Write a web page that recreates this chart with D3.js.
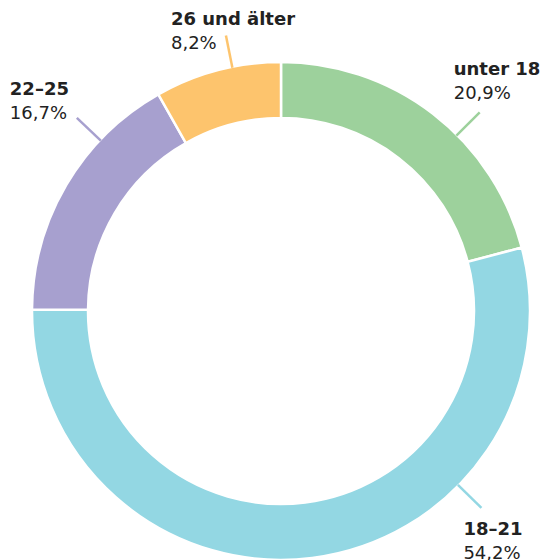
<!DOCTYPE html>
<html>
<head>
<meta charset="utf-8">
<script src="https://cdn.jsdelivr.net/npm/d3@7/dist/d3.min.js"></script>
<style>
  html, body { margin: 0; padding: 0; background: #fff; }
  svg { display: block; }
  text { font-family: "DejaVu Sans", "Noto Sans", sans-serif; fill: #222; }
</style>
</head>
<body>
<svg id="chart" width="546" height="560"></svg>
<script>
// Age groups and their shares (percent)
const categories = ["unter 18", "18–21", "22–25", "26 und älter"];
const shares = [20.9, 54.2, 16.7, 8.2];
const shareLabels = ["20,9%", "54,2%", "16,7%", "8,2%"];
const colors = ["#9dd19c", "#93d7e3", "#a7a0cf", "#fdc46d"];

// Label layout: leader line direction (degrees clockwise from top) and text offset from the line end
const leaderAngles = [45, 134.5, 313.4, 348.7];
const labelOffsets = [[-26, -37], [-18, 27], [-67, -23], [-55, -10]];

const width = 546, height = 560;
const cx = 281, cy = 311;
const outerR = 249, innerR = 193;
const leaderLen = 33;

const svg = d3.select("#chart");
const g = svg.append("g").attr("transform", `translate(${cx},${cy})`);

const pie = d3.pie().sort(null).value(d => d);
const arcs = pie(shares);
const arc = d3.arc().innerRadius(innerR).outerRadius(outerR);

g.selectAll("path.slice")
  .data(arcs)
  .join("path")
  .attr("class", "slice")
  .attr("d", arc)
  .attr("fill", (d, i) => colors[i])
  .attr("stroke", "#fff")
  .attr("stroke-width", 2.5);

const rad = a => a * Math.PI / 180;
const pt = (a, r) => [Math.sin(rad(a)) * r, -Math.cos(rad(a)) * r];

const labels = g.selectAll("g.label")
  .data(categories.map((c, i) => ({ c, i })))
  .join("g")
  .attr("class", "label");

labels.append("line")
  .each(function (d) {
    const a = leaderAngles[d.i];
    const [x1, y1] = pt(a, outerR - 1);
    const [x2, y2] = pt(a, outerR - 1 + leaderLen);
    d3.select(this)
      .attr("x1", x1).attr("y1", y1)
      .attr("x2", x2).attr("y2", y2);
  })
  .attr("stroke", d => colors[d.i])
  .attr("stroke-width", 2.5);

labels.each(function (d) {
  const a = leaderAngles[d.i];
  const [ex, ey] = pt(a, outerR - 1 + leaderLen);
  const [ox, oy] = labelOffsets[d.i];
  const sel = d3.select(this);
  sel.append("text")
    .attr("x", ex + ox)
    .attr("y", ey + oy)
    .attr("font-size", 18)
    .attr("font-weight", 700)
    .text(categories[d.i]);
  sel.append("text")
    .attr("x", ex + ox)
    .attr("y", ey + oy + 24)
    .attr("font-size", 18)
    .attr("font-weight", 400)
    .text(shareLabels[d.i]);
});
</script>
</body>
</html>
